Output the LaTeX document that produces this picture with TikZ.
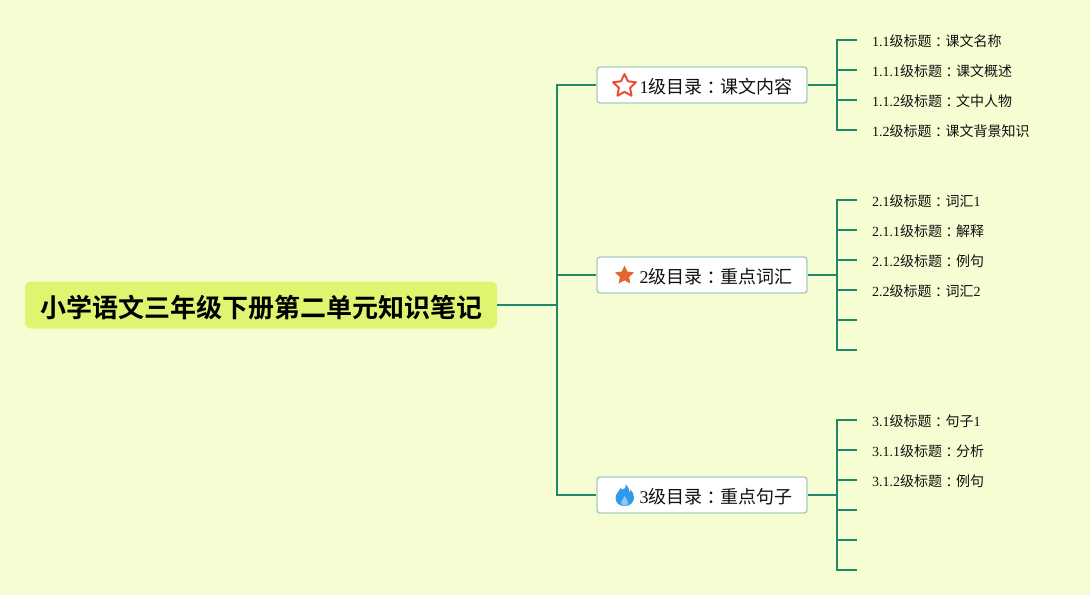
\documentclass[tikz,border=0pt]{standalone}
\usepackage{fontspec}
\setmainfont{Liberation Serif}
\newfontfamily\cjk[BoldFont={Noto Sans CJK SC Bold}]{Noto Sans CJK SC}
\newfontfamily\cjktc{Noto Sans CJK TC}
\usetikzlibrary{shapes.geometric}
\definecolor{bgc}{HTML}{F7FDD3}
\definecolor{rootc}{HTML}{E0F56F}
\definecolor{linec}{HTML}{208A68}
\definecolor{edgec}{HTML}{A6CDBB}
\definecolor{txtc}{HTML}{111111}
\definecolor{staro}{HTML}{E8503A}
\definecolor{starf}{HTML}{E5672F}
\definecolor{firec}{HTML}{2D9CE8}
\tikzset{
  link/.style={draw=linec,line width=2pt},
  rootbox/.style={fill=rootc,rounded corners=6pt,minimum width=472pt,minimum height=47pt,inner sep=0pt,font=\cjk\bfseries\fontsize{26}{26}\selectfont,text=black},
  branchbox/.style={fill=white,draw=edgec,line width=1.4pt,rounded corners=3pt,minimum width=210pt,minimum height=36pt,inner sep=0pt},
  branchtext/.style={anchor=west,inner sep=0pt,font=\cjk\fontsize{18}{18}\selectfont,text=txtc},
  leaftext/.style={anchor=west,inner sep=0pt,font=\cjk\fontsize{14}{14}\selectfont,text=txtc},
  staricon/.style={star,star points=5,star point ratio=2.05,minimum size=24pt,inner sep=0pt,line join=round}
}
\newcommand{\dg}[1]{{\fontspec{Liberation Serif}#1}}
\newcommand{\cln}{\raisebox{-0.7pt}{\cjktc ：}}
\begin{document}
\begin{tikzpicture}[x=1pt,y=-1pt]
\useasboundingbox (0,0) rectangle (1090,595);
\fill[bgc] (0,0) rectangle (1090,595);
% nodes
\node[rootbox] (root) at (261,305) {\raisebox{0pt}[24pt][0pt]{小学语文三年级下册第二单元知识笔记}};
\node[branchbox] (b1) at (702,85) {};
\node[branchbox] (b2) at (702,275) {};
\node[branchbox] (b3) at (702,495) {};
\node[branchtext] (t1) at (639.5,86.5) {\dg{1}级目录\cln 课文内容};
\node[branchtext] (t2) at (639.5,276.5) {\dg{2}级目录\cln 重点词汇};
\node[branchtext] (t3) at (639.5,496.5) {\dg{3}级目录\cln 重点句子};
% icons
\node[staricon,draw=staro,line width=2pt,fill=white] (i1) at (624.5,86) {};
\node[staricon,fill=starf,minimum size=20pt] (i2) at (624.5,275.5) {};
\fill[firec] (625.5,484)
  .. controls (626.5,488) and (624,490) .. (622,489.5)
  .. controls (621.8,489) and (621.2,488.5) .. (620.5,488)
  .. controls (619,491.5) and (615.5,494) .. (615.5,498)
  .. controls (615.5,503) and (619.5,506) .. (624.5,506)
  .. controls (630,506) and (634,502.5) .. (634,497.5)
  .. controls (634,494) and (632,491.5) .. (630.5,489.5)
  .. controls (630.5,491) and (630,492) .. (629,492.5)
  .. controls (629.5,489) and (628,486) .. (625.5,484) -- cycle;
\fill[firec!55!white] (624.5,496)
  .. controls (624.5,498) and (621,500) .. (621,502.5)
  .. controls (621,504.5) and (622.5,505.5) .. (624.5,505.5)
  .. controls (626.5,505.5) and (628,504.5) .. (628,502.5)
  .. controls (628,500) and (625.5,498) .. (624.5,496) -- cycle;
% leaf labels
\foreach \n/\y/\t in {
 l11/41.5/{\dg{1.1}级标题\cln 课文名称},
 l12/71.5/{\dg{1.1.1}级标题\cln 课文概述},
 l13/101.5/{\dg{1.1.2}级标题\cln 文中人物},
 l14/131.5/{\dg{1.2}级标题\cln 课文背景知识},
 l21/201.5/{\dg{2.1}级标题\cln 词汇\dg{1}},
 l22/231.5/{\dg{2.1.1}级标题\cln 解释},
 l23/261.5/{\dg{2.1.2}级标题\cln 例句},
 l24/291.5/{\dg{2.2}级标题\cln 词汇\dg{2}},
 l31/421.5/{\dg{3.1}级标题\cln 句子\dg{1}},
 l32/451.5/{\dg{3.1.1}级标题\cln 分析},
 l33/481.5/{\dg{3.1.2}级标题\cln 例句}}
 {\node[leaftext] (\n) at (872,\y) {\t};}
% junction coordinates
\coordinate (trunk) at (557,305);
\coordinate (j1) at (837,85);
\coordinate (j2) at (837,275);
\coordinate (j3) at (837,495);
\foreach \n/\y in {e11/40,e12/70,e13/100,e14/130,e21/200,e22/230,e23/260,e24/290,e25/320,e26/350,e31/420,e32/450,e33/480,e34/510,e35/540,e36/570}
  {\coordinate (\n) at (857,\y);}
% connectors
\draw[link] (root.east) -- (trunk);
\foreach \b in {b1,b2,b3}{\draw[link] (trunk) |- (\b.west);}
\foreach \b/\j in {b1/j1,b2/j2,b3/j3}{\draw[link] (\b.east) -- (\j);}
\foreach \j/\e in {j1/e11,j1/e12,j1/e13,j1/e14,j2/e21,j2/e22,j2/e23,j2/e24,j2/e25,j2/e26,j3/e31,j3/e32,j3/e33,j3/e34,j3/e35,j3/e36}
  {\draw[link] (\j) |- (\e);}
\end{tikzpicture}
\end{document}
